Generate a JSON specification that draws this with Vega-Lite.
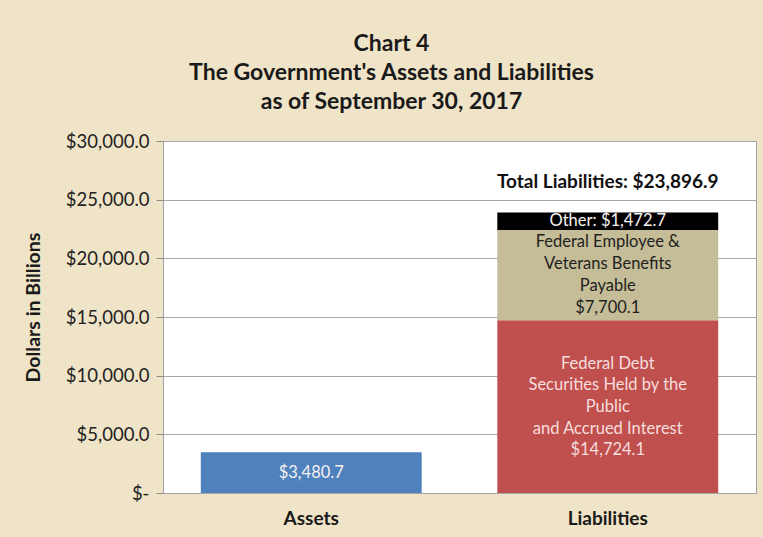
{
  "$schema": "https://vega.github.io/schema/vega-lite/v6.json",
  "width": 593,
  "height": 352,
  "autosize": {"type": "none"},
  "padding": {"left": 163, "top": 141, "right": 7, "bottom": 44},
  "background": "#f0e4c8",
  "title": {
    "text": ["Chart 4", "The Government's Assets and Liabilities", "as of September 30, 2017"],
    "font": "Lato",
    "fontSize": 23,
    "fontWeight": "bold",
    "color": "#1a1a1a",
    "lineHeight": 29,
    "anchor": "middle",
    "frame": "group",
    "dx": -68,
    "offset": 18
  },
  "config": {
    "view": {"fill": "#ffffff", "stroke": "#a3a3a3", "strokeWidth": 1},
    "font": "Lato"
  },
  "datasets": {
    "segments": [
      {"category": "Assets", "segment": "Assets", "order": 1, "value": 3480.7, "label": ["$3,480.7"]},
      {"category": "Liabilities", "segment": "Federal Debt", "order": 1, "value": 14724.1, "label": ["Federal Debt", "Securities Held by the", "Public", "and Accrued Interest", "$14,724.1"]},
      {"category": "Liabilities", "segment": "Federal Employee", "order": 2, "value": 7700.1, "label": ["Federal Employee &", "Veterans Benefits", "Payable", "$7,700.1"]},
      {"category": "Liabilities", "segment": "Other", "order": 3, "value": 1472.7, "label": ["Other:  $1,472.7"]}
    ],
    "totals": [
      {"category": "Liabilities", "total": 23896.9, "label": "Total Liabilities:  $23,896.9"}
    ]
  },
  "encoding": {
    "x": {
      "field": "category",
      "type": "nominal",
      "sort": ["Assets", "Liabilities"],
      "scale": {"domain": ["Assets", "Liabilities"], "paddingInner": 0.255, "paddingOuter": 0.1275},
      "axis": {
        "title": null,
        "labelAngle": 0,
        "labelFont": "Lato",
        "labelFontSize": 19,
        "labelFontWeight": "bold",
        "labelColor": "#1a1a1a",
        "labelPadding": 16,
        "ticks": false,
        "domain": false
      }
    }
  },
  "layer": [
    {
      "data": {"name": "segments"},
      "transform": [
        {"stack": "value", "groupby": ["category"], "sort": [{"field": "order"}], "as": ["v0", "v1"]}
      ],
      "mark": {"type": "bar"},
      "encoding": {
        "y": {
          "field": "v0",
          "type": "quantitative",
          "scale": {"domain": [0, 30000], "nice": false},
          "axis": {
            "title": "Dollars in Billions",
            "titleFont": "Lato",
            "titleFontSize": 19.5,
            "titleFontWeight": "bold",
            "titleColor": "#1a1a1a",
            "titlePadding": 22,
            "titleY": 166,
            "values": [0, 5000, 10000, 15000, 20000, 25000, 30000],
            "labelExpr": "datum.value == 0 ? '$-' : '$' + format(datum.value, ',.1f')",
            "labelFont": "Lato",
            "labelFontSize": 18.5,
            "labelColor": "#222222",
            "labelPadding": 7,
            "domain": false,
            "ticks": true,
            "tickSize": 7,
            "tickColor": "#8c8c8c",
            "grid": true,
            "gridColor": "#a6a6a6",
            "gridWidth": 1
          }
        },
        "y2": {"field": "v1"},
        "color": {
          "field": "segment",
          "type": "nominal",
          "scale": {
            "domain": ["Assets", "Federal Debt", "Federal Employee", "Other"],
            "range": ["#4f81bd", "#c0504d", "#c4bd97", "#000000"]
          },
          "legend": null
        }
      }
    },
    {
      "data": {"name": "segments"},
      "transform": [
        {"stack": "value", "groupby": ["category"], "sort": [{"field": "order"}], "as": ["v0", "v1"]},
        {"calculate": "(datum.v0 + datum.v1) / 2", "as": "mid"},
        {"filter": "datum.segment == 'Assets' || datum.segment == 'Other'"}
      ],
      "mark": {"type": "text", "font": "Lato", "fontSize": 16.5, "baseline": "middle", "align": "center", "color": "#f7f2f2"},
      "encoding": {
        "y": {"field": "mid", "type": "quantitative"},
        "text": {"field": "label"}
      }
    },
    {
      "data": {"name": "segments"},
      "transform": [
        {"stack": "value", "groupby": ["category"], "sort": [{"field": "order"}], "as": ["v0", "v1"]},
        {"calculate": "(datum.v0 + datum.v1) / 2", "as": "mid"},
        {"filter": "datum.segment == 'Federal Debt'"}
      ],
      "mark": {"type": "text", "font": "Lato", "fontSize": 16.5, "lineHeight": 21.7, "baseline": "middle", "align": "center", "color": "#f6dede", "dy": -43},
      "encoding": {
        "y": {"field": "mid", "type": "quantitative"},
        "text": {"field": "label"}
      }
    },
    {
      "data": {"name": "segments"},
      "transform": [
        {"stack": "value", "groupby": ["category"], "sort": [{"field": "order"}], "as": ["v0", "v1"]},
        {"calculate": "(datum.v0 + datum.v1) / 2", "as": "mid"},
        {"filter": "datum.segment == 'Federal Employee'"}
      ],
      "mark": {"type": "text", "font": "Lato", "fontSize": 16.5, "lineHeight": 22, "baseline": "middle", "align": "center", "color": "#1f1f1f", "dy": -33},
      "encoding": {
        "y": {"field": "mid", "type": "quantitative"},
        "text": {"field": "label"}
      }
    },
    {
      "data": {"name": "totals"},
      "mark": {"type": "text", "font": "Lato", "fontSize": 19, "fontWeight": "bold", "baseline": "middle", "align": "center", "color": "#111111", "dy": -31},
      "encoding": {
        "y": {"field": "total", "type": "quantitative"},
        "text": {"field": "label"}
      }
    }
  ]
}
